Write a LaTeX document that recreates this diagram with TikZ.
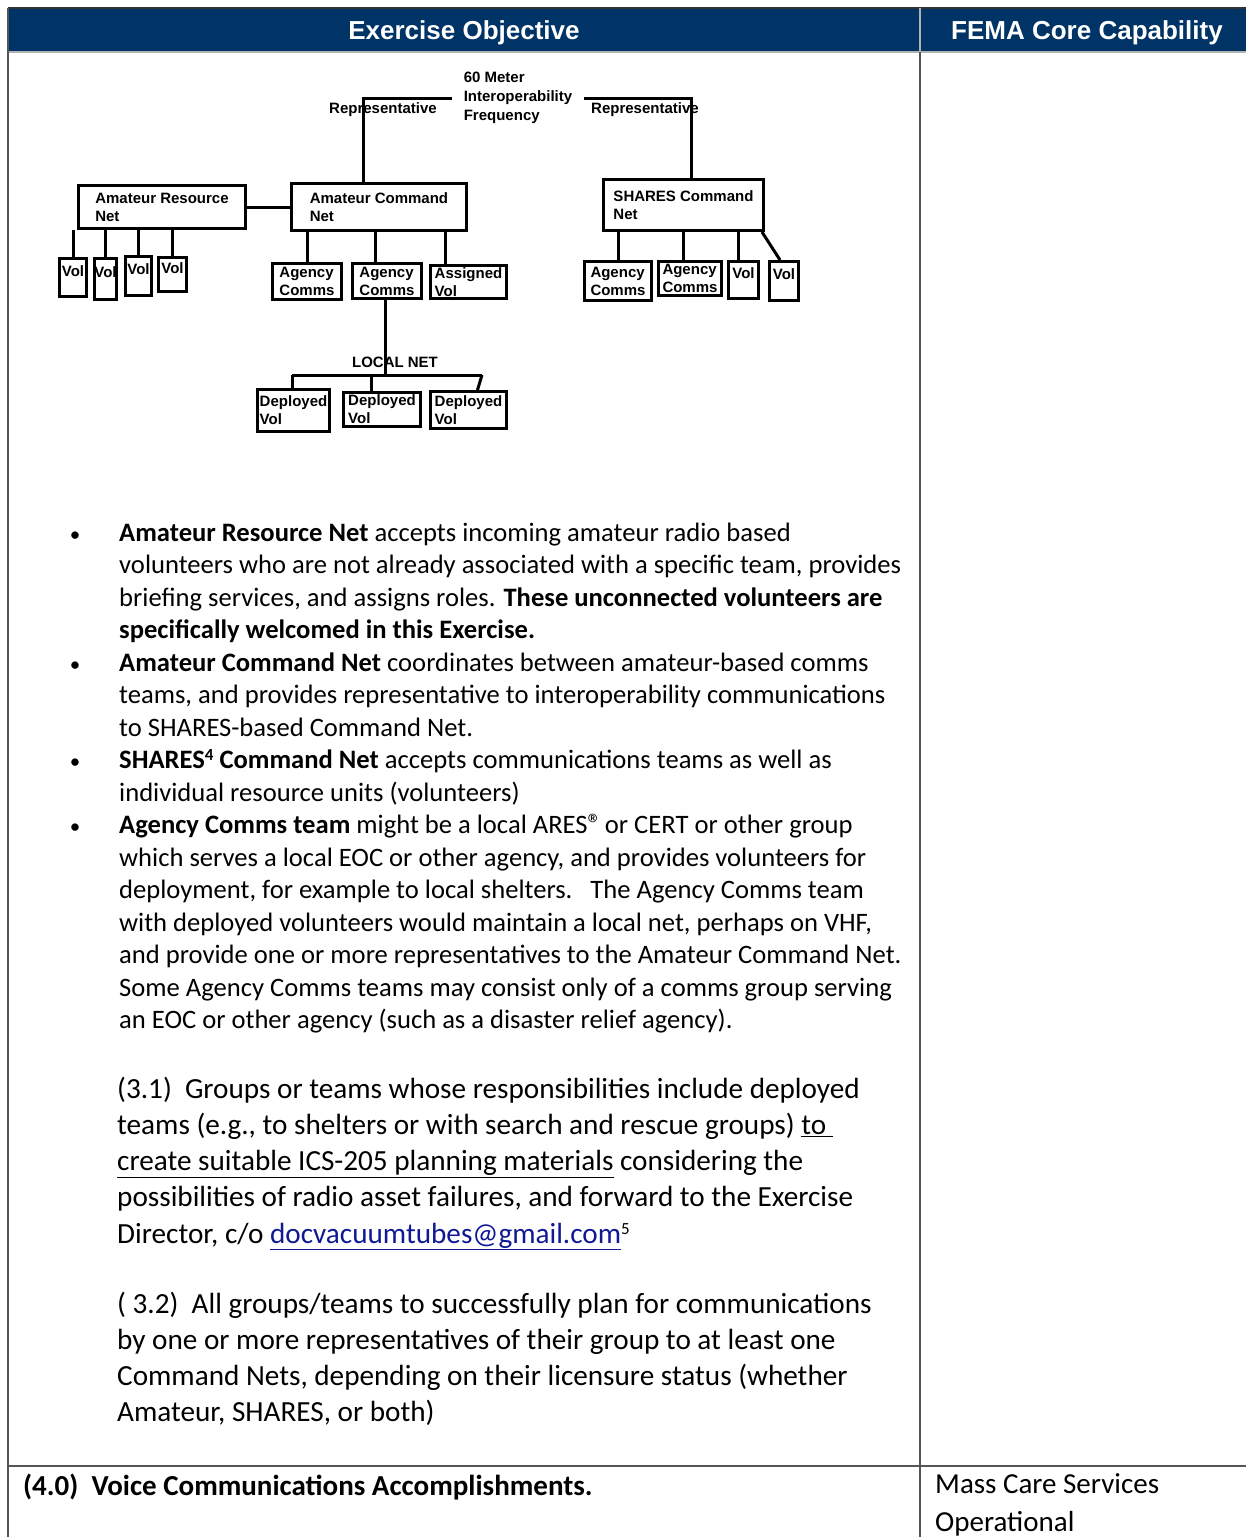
\documentclass[tikz,border=0pt]{standalone}
\usepackage{fontspec}
\setmainfont{Carlito}
\newfontfamily\diagfont{Liberation Sans}
\usetikzlibrary{positioning,calc}
\definecolor{headblue}{RGB}{0,51,102}
\definecolor{rulegray}{RGB}{85,85,85}
\definecolor{linkblue}{RGB}{16,24,150}

\begin{document}
\begin{tikzpicture}[x=1pt,y=-1pt,
				net/.style={draw=black, line width=3pt, align=left, inner sep=0pt, font=\diagfont\fontsize{15}{18}\selectfont\bfseries},
				volbox/.style={net, text height=13pt, text depth=16pt},
				lbl/.style={inner sep=0pt, font=\diagfont\fontsize{15}{19}\selectfont\bfseries},
				headtext/.style={text=white, inner sep=0pt, font=\diagfont\fontsize{26}{30}\selectfont\bfseries},
				body/.style={anchor=base west, inner sep=0pt, font=\fontsize{26.6}{32}\selectfont},
				bigbody/.style={anchor=base west, inner sep=0pt, font=\fontsize{29.2}{35}\selectfont},
				cellbody/.style={anchor=base west, inner sep=0pt, font=\fontsize{29}{34}\selectfont},
				rule/.style={draw=rulegray, line width=1.5pt}
			]
			\useasboundingbox (0,0) rectangle (1246,1537);
			% table head and rules
			\fill[headblue] (8,8) rectangle (1246,52);
			\draw[black!80, line width=1.5pt] (8,8) -- (1246,8);
			\draw[gray!60, line width=1.5pt] (920,8) -- (920,52);
			\draw[gray!60, line width=1.5pt] (8,52) -- (1246,52);
			\draw[rule] (8,8) -- (8,1537);
			\draw[rule] (920,52) -- (920,1537);
			\draw[rule] (8,1466) -- (1246,1466);
			\node[headtext] (hobj) at (464,32.5) {Exercise Objective};
			\node[headtext] (hfema) at (1087,32.5) {FEMA Core Capability};
			% nets
			\node[net, minimum width=167pt, minimum height=43pt] (arn) at (162,207) {Amateur Resource\\Net};
			\node[net, minimum width=175pt, minimum height=47pt] (acn) at (379,207) {Amateur Command\\Net};
			\node[net, minimum width=160pt, minimum height=51pt] (scn) at (683.5,205) {SHARES Command\\Net};
			\node[lbl, align=left, inner xsep=12pt] (freq) at (518,98) {60 Meter\\Interoperability\\Frequency};
			\node[lbl] (repL) at (383,110) {Representative};
			\node[lbl] (repR) at (645,110) {Representative};
			\node[lbl] (localnet) at (395,362) {LOCAL NET};
			% volunteers of the resource net
			\node[volbox, minimum width=27pt, minimum height=38pt] (v1) at (73,277.5) {Vol};
			\node[volbox, minimum width=22pt, minimum height=41pt] (v2) at (105.5,279) {Vol};
			\node[volbox, minimum width=26pt, minimum height=39pt] (v3) at (138.5,276) {Vol};
			\node[volbox, minimum width=28pt, minimum height=34pt] (v4) at (172.5,274.5) {Vol};
			% teams of the amateur command net
			\node[net, minimum width=69pt, minimum height=36pt] (ac1) at (307,281.5) {Agency\\Comms};
			\node[net, minimum width=69pt, minimum height=35pt] (ac2) at (387,281) {Agency\\Comms};
			\node[net, minimum width=76pt, minimum height=33pt] (av) at (468.5,282) {Assigned\\Vol};
			% teams of the shares net
			\node[net, minimum width=67pt, minimum height=39pt] (sc1) at (618,281) {Agency\\Comms};
			\node[net, minimum width=63pt, minimum height=34pt] (sc2) at (690,278.5) {Agency\\Comms};
			\node[volbox, minimum width=30pt, minimum height=37pt] (sv1) at (743.5,280) {Vol};
			\node[volbox, minimum width=29pt, minimum height=39pt] (sv2) at (784,281) {Vol};
			% local net
			\node[net, minimum width=72pt, minimum height=42pt] (d1) at (293.5,410.5) {Deployed\\Vol};
			\node[net, minimum width=77pt, minimum height=34pt] (d2) at (382,409.5) {Deployed\\Vol};
			\node[net, minimum width=76pt, minimum height=37pt] (d3) at (468.5,410) {Deployed\\Vol};
			\coordinate (acnup) at ([xshift=-16pt]acn.north);
			\coordinate (scnup) at ([xshift=7.5pt]scn.north);
			\coordinate (ac2up) at ([xshift=-12pt]ac2.north);
			\coordinate (avup) at ([xshift=-23pt]av.north);
			\coordinate (sc2up) at ([xshift=-7pt]sc2.north);
			\coordinate (sv1up) at ([xshift=-5pt]sv1.north);
			\coordinate (ac2down) at ([xshift=-2pt]ac2.south);
			\coordinate (busL) at (292,375);
			\coordinate (busR) at (482,375);
			\coordinate (d2up) at ([xshift=-11pt]d2.north);
			\begin{scope}[line width=3pt]
			\draw (acnup) |- (freq.west);
			\draw (freq.east) -| (scnup);
			\draw (arn) -- (acn);
			\foreach \v in {v1,v2,v3,v4}
				\draw (arn.south -| \v.north) -- (\v.north);
			\draw (acn.south -| ac1.north) -- (ac1.north);
			\draw (acn.south -| ac2up) -- (ac2up);
			\draw (acn.south -| avup) -- (avup);
			\draw (scn.south -| sc1.north) -- (sc1.north);
			\draw (scn.south -| sc2up) -- (sc2up);
			\draw (scn.south -| sv1up) -- (sv1up);
			\draw ([xshift=-3pt]scn.south east) -- ([xshift=-4pt]sv2.north);
			\draw (ac2down) -- (ac2down |- busL);
			\draw (busL) -- (busR);
			\draw (busL) -- (busL |- d1.north);
			\draw (d2up |- busL) -- (d2up);
			\draw (busR) -- ([xshift=9pt]d3.north);
			\end{scope}
			% bullet list
			\foreach \txt [count=\i from 0] in {
				{\textbf{Amateur Resource Net} accepts incoming amateur radio based},
				{volunteers who are not already associated with a specific team, provides},
				{briefing services, and assigns roles. \textbf{These unconnected volunteers are}},
				{\textbf{specifically welcomed in this Exercise.}},
				{\textbf{Amateur Command Net} coordinates between amateur-based comms},
				{teams, and provides representative to interoperability communications},
				{to SHARES-based Command Net.},
				{\textbf{SHARES{\fontsize{17}{17}\selectfont\raisebox{8pt}{4}} Command Net} accepts communications teams as well as},
				{individual resource units (volunteers)},
				{\textbf{Agency Comms team} might be a local ARES{\fontsize{28}{28}\selectfont ®}\hspace{-3pt} or CERT or other group},
				{which serves a local EOC or other agency, and provides volunteers for},
				{deployment, for example to local shelters.\ \ \ The Agency Comms team},
				{with deployed volunteers would maintain a local net, perhaps on VHF,},
				{and provide one or more representatives to the Amateur Command Net.},
				{Some Agency Comms teams may consist only of a comms group serving},
				{an EOC or other agency (such as a disaster relief agency).}}
				\node[body] (b\i) at (119,{541+32.5*\i}) {\txt};
			\foreach \i in {0,4,7,9}
				\node[body, anchor=base, font=\fontsize{21}{21}\selectfont] (dot\i) at (75,{541+32.5*\i}) {•};
			% objectives
			\foreach \txt [count=\i from 0] in {
				{(3.1)\ \ Groups or teams whose responsibilities include deployed},
				{teams (e.g., to shelters or with search and rescue groups) \underline{to\ }},
				{\underline{create suitable ICS-205 planning materials} considering the},
				{possibilities of radio asset failures, and forward to the Exercise},
				{Director, c/o {\color{linkblue}\underline{docvacuumtubes@gmail.com}}{\fontsize{17}{17}\selectfont\raisebox{9pt}{5}}}}
				\node[bigbody] (p\i) at (117,{1098+36.3*\i}) {\txt};
			\foreach \txt [count=\i from 0] in {
				{(\ 3.2)\ \ All groups/teams to successfully plan for communications},
				{by one or more representatives of their group to at least one},
				{Command Nets, depending on their licensure status (whether},
				{Amateur, SHARES, or both)}}
				\node[bigbody] (q\i) at (117,{1313+36*\i}) {\txt};
			% last row
			\node[cellbody] (voice) at (23,1495) {\textbf{(4.0)\ \ Voice Communications Accomplishments.}};
			\node[cellbody] (mass) at (935,1493) {Mass Care Services};
			\node[cellbody] (oper) at (935,1531) {Operational};
			\end{tikzpicture}
\end{document}
